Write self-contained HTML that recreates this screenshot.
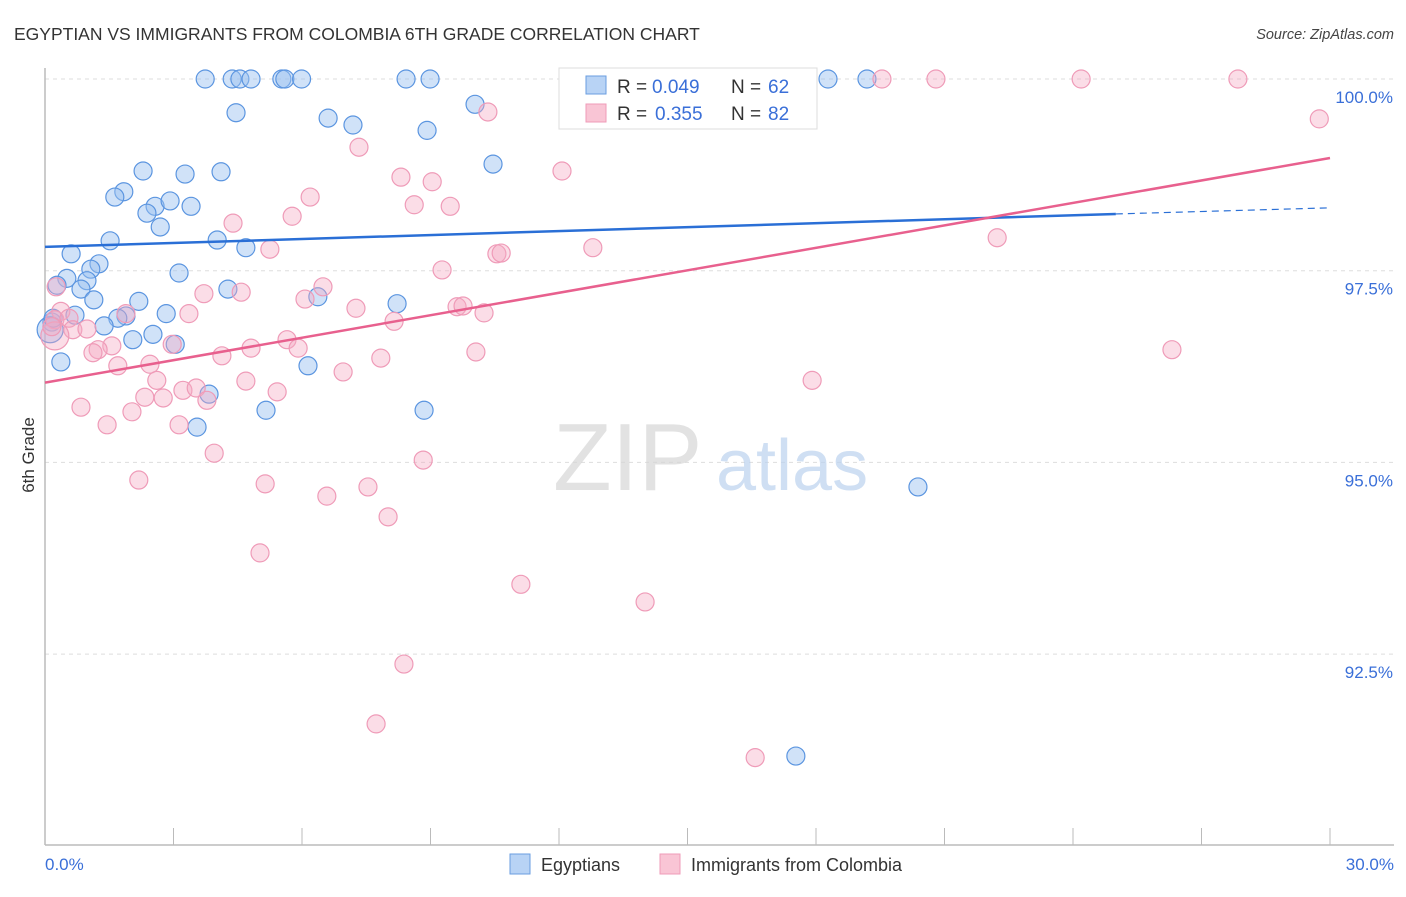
<!DOCTYPE html>
<html><head><meta charset="utf-8"><style>
body{margin:0;background:#fff;font-family:"Liberation Sans",sans-serif}
svg text{font-family:"Liberation Sans",sans-serif}
</style></head><body>
<svg id="chart" width="1406" height="892" xmlns="http://www.w3.org/2000/svg">
<text x="14" y="40" font-size="17.5" fill="#333">EGYPTIAN VS IMMIGRANTS FROM COLOMBIA 6TH GRADE CORRELATION CHART</text>
<text x="1394" y="39" font-size="14.5" fill="#444" text-anchor="end" font-style="italic">Source: ZipAtlas.com</text>
<g id="grid"></g>
<text x="553" y="490" font-size="96" fill="#d6d6d6" font-family="Liberation Serif" opacity="0.7">ZIP</text>
<text x="716" y="490" font-size="72" fill="#bcd2ee" opacity="0.7">atlas</text>
<g id="pts"></g>
<g id="lines"></g>
<text transform="translate(34,455) rotate(-90)" font-size="17" fill="#333" text-anchor="middle">6th Grade</text>
<text x="45" y="870" font-size="17" fill="#3a6fd8">0.0%</text>
<text x="1394" y="870" font-size="17" fill="#3a6fd8" text-anchor="end">30.0%</text>
<g>
<rect x="559" y="68" width="258" height="61" fill="#fff" stroke="#ddd"/>
<rect x="586" y="76" width="20" height="18" fill="#b8d3f5" stroke="#6a9ee0"/>
<rect x="586" y="104" width="20" height="18" fill="#f9c5d5" stroke="#ef9bb8"/>
<text x="617" y="93" font-size="19" fill="#333">R =</text>
<text x="652" y="93" font-size="19" fill="#3a6fd8">0.049</text>
<text x="731" y="93" font-size="19" fill="#333">N =</text>
<text x="768" y="93" font-size="19" fill="#3a6fd8">62</text>
<text x="617" y="120" font-size="19" fill="#333">R =</text>
<text x="655" y="120" font-size="19" fill="#3a6fd8">0.355</text>
<text x="731" y="120" font-size="19" fill="#333">N =</text>
<text x="768" y="120" font-size="19" fill="#3a6fd8">82</text>
</g>
<g>
<rect x="510" y="854" width="20" height="20" fill="#b8d3f5" stroke="#6a9ee0"/>
<text x="541" y="871" font-size="18" fill="#333">Egyptians</text>
<rect x="660" y="854" width="20" height="20" fill="#f9c5d5" stroke="#ef9bb8"/>
<text x="691" y="871" font-size="18" fill="#333">Immigrants from Colombia</text>
</g>
</svg>
<script>
const yTicks=[100,97.5,95,92.5];
const yTickLabels=["100.0%","97.5%","95.0%","92.5%"];
const xTicks=[0,3,6,9,12,15,18,21,24,27,30];
const blueX=[3.74,4.37,4.55,4.81,5.53,5.60,5.99,8.43,8.99,18.28,19.19,4.46,10.04,6.61,7.19,8.92,10.46,2.29,3.27,4.11,1.84,1.63,2.57,2.92,2.38,3.41,2.69,1.52,4.02,4.69,0.61,1.26,1.07,3.13,0.51,0.98,0.28,0.84,4.27,1.14,2.19,6.37,8.22,0.70,1.89,2.83,1.70,1.38,0.16,2.52,2.05,3.04,0.12,0.37,6.14,3.83,5.16,8.85,3.55,20.38,17.53,0.19];
const blueY=[100,100,100,100,100,100,100,100,100,100,100,99.56,99.67,99.49,99.40,99.33,98.89,98.80,98.76,98.79,98.53,98.46,98.34,98.41,98.25,98.34,98.07,97.89,97.90,97.80,97.72,97.59,97.52,97.47,97.40,97.37,97.31,97.26,97.26,97.12,97.10,97.16,97.07,96.92,96.91,96.94,96.88,96.78,96.83,96.67,96.60,96.54,96.73,96.31,96.26,95.89,95.68,95.68,95.46,94.68,91.17,96.88];
const pinkX=[13.66,19.54,20.80,24.19,27.85,10.34,29.75,7.33,12.07,8.31,9.04,6.19,8.62,9.46,5.77,4.39,5.25,12.79,10.55,10.65,22.23,9.27,0.26,3.71,4.58,6.49,6.07,7.26,9.62,9.76,10.25,8.15,1.89,0.37,3.36,0.23,0.56,0.65,0.98,5.65,5.91,4.81,2.97,1.56,1.24,1.12,4.13,7.84,10.06,26.31,2.45,1.70,6.96,2.61,4.69,17.91,3.22,3.53,5.42,2.33,2.76,3.78,0.84,2.03,1.45,3.13,3.95,8.83,2.19,5.14,6.58,7.54,8.01,5.02,11.11,14.01,8.38,7.73,16.58,0.23,0.16];
const pinkY=[100,100,100,100,100,99.57,99.48,99.11,98.80,98.72,98.66,98.46,98.36,98.34,98.21,98.12,97.78,97.80,97.72,97.73,97.93,97.51,97.29,97.20,97.22,97.29,97.13,97.01,97.03,97.04,96.95,96.84,96.94,96.97,96.94,96.86,96.88,96.73,96.74,96.60,96.49,96.49,96.54,96.52,96.47,96.43,96.39,96.36,96.44,96.47,96.28,96.26,96.18,96.07,96.06,96.07,95.94,95.97,95.92,95.85,95.84,95.81,95.72,95.66,95.49,95.49,95.12,95.03,94.77,94.72,94.56,94.68,94.29,93.82,93.41,93.18,92.37,91.59,91.15,96.65,96.77];
const blueTrend=[97.81,98.24,98.32];
const blueTrendX=[0,25,30];
const pinkTrend=[96.04,98.97];
const pinkTrendX=[0,30];
const NS="http://www.w3.org/2000/svg";
const sx=v=>45+v/30*1285;
const sy=v=>79+(100-v)/2.5*191.7;
function mk(tag,attrs,parent){const e=document.createElementNS(NS,tag);for(const k in attrs)e.setAttribute(k,attrs[k]);parent.appendChild(e);return e;}
const grid=document.getElementById('grid');
yTicks.forEach((t,i)=>{
  const l=mk('line',{x1:45,x2:1394,y1:sy(t),y2:sy(t),stroke:'#ddd','stroke-dasharray':'4,4'},grid);
  
  
  const tx=mk('text',{x:1393,y:sy(t)+24,'font-size':17,fill:'#3a6fd8','text-anchor':'end'},grid);
  tx.textContent=yTickLabels[i];
  
  
});
const ax=mk('line',{x1:45,x2:1394,y1:845,y2:845,stroke:'#bbb','stroke-width':1.5},grid);


const ay=mk('line',{x1:45,x2:45,y1:68,y2:845,stroke:'#bbb','stroke-width':1.5},grid);


xTicks.forEach(t=>{
  const l=mk('line',{x1:sx(t),x2:sx(t),y1:828,y2:845,stroke:'#bbb'},grid);
  
  
});
const pts=document.getElementById('pts');
blueX.forEach((x,i)=>{
  const c=mk('circle',{cx:sx(x),cy:sy(blueY[i]),r:i===52?13:9,fill:'rgba(150,190,240,0.45)',stroke:'#5b95e0','stroke-width':1.2},pts);
  
  
});
pinkX.forEach((x,i)=>{
  const c=mk('circle',{cx:sx(x),cy:sy(pinkY[i]),r:i===79?14:9,fill:'rgba(245,170,195,0.4)',stroke:'#ef9bb8','stroke-width':1.2},pts);
  
  
});
const lines=document.getElementById('lines');
const b1=mk('line',{x1:sx(blueTrendX[0]),y1:sy(blueTrend[0]),x2:sx(blueTrendX[1]),y2:sy(blueTrend[1]),stroke:'#2a6fd6','stroke-width':2.5},lines);


const b2=mk('line',{x1:sx(blueTrendX[1]),y1:sy(blueTrend[1]),x2:sx(blueTrendX[2]),y2:sy(blueTrend[2]),stroke:'#2a6fd6','stroke-width':1.2,'stroke-dasharray':'7,5'},lines);


const p1=mk('line',{x1:sx(pinkTrendX[0]),y1:sy(pinkTrend[0]),x2:sx(pinkTrendX[1]),y2:sy(pinkTrend[1]),stroke:'#e8608e','stroke-width':2.5},lines);


</script>
</body></html>
